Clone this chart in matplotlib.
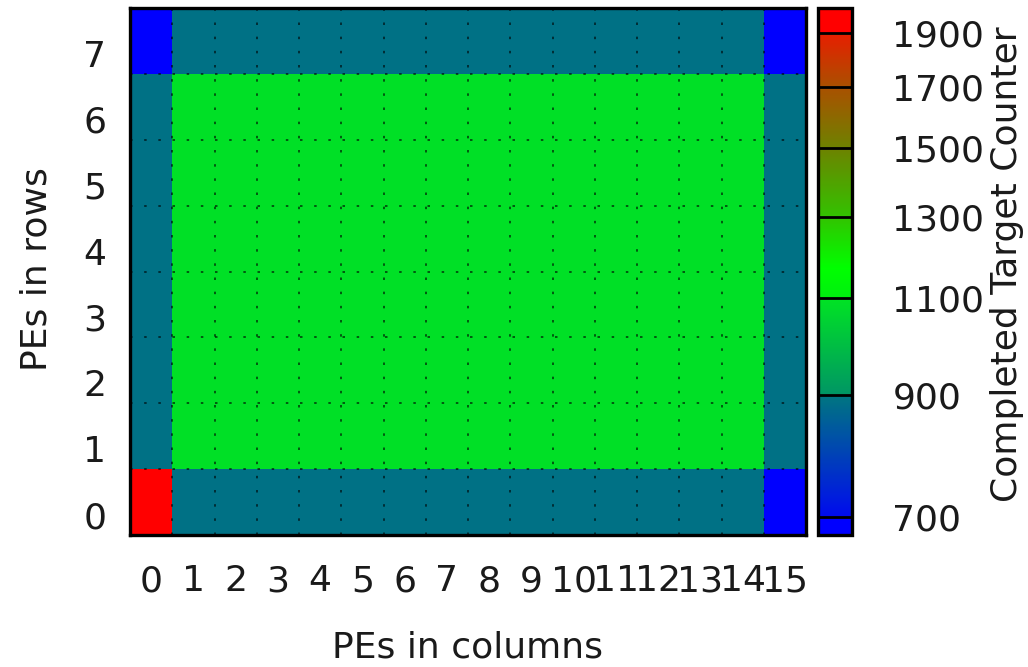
import numpy as np
import matplotlib
matplotlib.use("Agg")
import matplotlib.pyplot as plt
from matplotlib.colors import LogNorm, LinearSegmentedColormap
from matplotlib.ticker import NullLocator, FixedFormatter, FixedLocator
from matplotlib.transforms import ScaledTranslation

# completed target counter per PE, rows listed from row 0 (bottom) to row 7 (top)
row_0 = [2000, 890, 890, 890, 890, 890, 890, 890, 890, 890, 890, 890, 890, 890, 890, 675]
row_1 = [890, 1090, 1090, 1090, 1090, 1090, 1090, 1090, 1090, 1090, 1090, 1090, 1090, 1090, 1090, 890]
row_2 = [890, 1090, 1090, 1090, 1090, 1090, 1090, 1090, 1090, 1090, 1090, 1090, 1090, 1090, 1090, 890]
row_3 = [890, 1090, 1090, 1090, 1090, 1090, 1090, 1090, 1090, 1090, 1090, 1090, 1090, 1090, 1090, 890]
row_4 = [890, 1090, 1090, 1090, 1090, 1090, 1090, 1090, 1090, 1090, 1090, 1090, 1090, 1090, 1090, 890]
row_5 = [890, 1090, 1090, 1090, 1090, 1090, 1090, 1090, 1090, 1090, 1090, 1090, 1090, 1090, 1090, 890]
row_6 = [890, 1090, 1090, 1090, 1090, 1090, 1090, 1090, 1090, 1090, 1090, 1090, 1090, 1090, 1090, 890]
row_7 = [675, 890, 890, 890, 890, 890, 890, 890, 890, 890, 890, 890, 890, 890, 890, 675]

col_labels = [str(i) for i in range(16)]
row_labels = [str(i) for i in range(8)]
cb_ticks = [700, 900, 1100, 1300, 1500, 1700, 1900]
cb_min, cb_max = 675, 2000

# palette nodes (value, colour) sampled from the colour box
palette = [
    (675, (0, 0, 255)), (700, (0, 0, 255)), (702, (0, 12, 238)),
    (900, (0, 118, 128)), (902, (0, 150, 100)), (1100, (0, 228, 35)),
    (1102, (0, 240, 15)), (1170, (0, 255, 0)), (1300, (50, 195, 0)),
    (1500, (110, 130, 0)), (1700, (170, 80, 0)), (1900, (232, 30, 0)),
    (1902, (255, 0, 0)), (2000, (255, 0, 0)),
]


def make_cmap(nodes, vmin, vmax):
    lo, hi = np.log(vmin), np.log(vmax)
    pts = []
    for v, c in nodes:
        pos = (np.log(v) - lo) / (hi - lo)
        pts.append((min(max(pos, 0.0), 1.0), tuple(x / 255 for x in c)))
    return LinearSegmentedColormap.from_list("gp", pts, N=1024)


data = np.array([row_0, row_1, row_2, row_3, row_4, row_5, row_6, row_7], dtype=float)
n_rows, n_cols = data.shape

plt.rcParams['font.family'] = ['DejaVu Sans']
fs = 26
txt_color = '#1a1a1a'

fig = plt.figure(figsize=(10.28, 6.67), dpi=100)
ax = fig.add_axes([130 / 1028, 1 - 535 / 667, 676 / 1028, 527 / 667])
cax = fig.add_axes([818 / 1028, 1 - 535 / 667, 34 / 1028, 527 / 667])

cmap = make_cmap(palette, cb_min, cb_max)
norm = LogNorm(vmin=cb_min, vmax=cb_max)
xe = np.arange(n_cols + 1) - 0.5
ye = np.arange(n_rows + 1) - 0.5
pcm = ax.pcolormesh(xe, ye, data, cmap=cmap, norm=norm, shading='flat')

ax.set_xlim(-0.5, n_cols - 0.5)
ax.set_ylim(-0.5, n_rows - 0.5)
ax.set_xticks(np.arange(n_cols))
ax.set_xticklabels(col_labels)
ax.set_yticks(np.arange(n_rows))
ax.set_yticklabels(row_labels)
ax.set_xticks(np.arange(n_cols - 1) + 0.5, minor=True)
ax.set_yticks(np.arange(n_rows - 1) + 0.5, minor=True)
ax.grid(which='minor', color='black', linestyle=(0, (1.5, 7)), linewidth=1.2, alpha=0.7)
ax.grid(which='major', visible=False)
ax.tick_params(which='both', length=0, labelsize=fs, labelcolor=txt_color)
ax.tick_params(axis='x', pad=21)
ax.tick_params(axis='y', pad=17)
for lab in ax.get_yticklabels():
    lab.set_transform(lab.get_transform() + ScaledTranslation(0, -0.125, fig.dpi_scale_trans))
for s in ax.spines.values():
    s.set_linewidth(2.4)

ax.set_xlabel('PEs in columns', fontsize=fs, color=txt_color)
ax.xaxis.label.set_verticalalignment('baseline')
ax.xaxis.set_label_coords(0.5, -(657 - 535) / 527)
ax.set_ylabel('PEs in rows', fontsize=fs, color=txt_color)
ax.yaxis.label.set_verticalalignment('center')
ax.yaxis.set_label_coords(-(130 - 37) / 676, 0.505)

cbar = fig.colorbar(pcm, cax=cax)
cax.yaxis.set_major_locator(FixedLocator(cb_ticks))
cax.yaxis.set_major_formatter(FixedFormatter([str(t) for t in cb_ticks]))
cax.yaxis.set_minor_locator(NullLocator())
cax.tick_params(which='both', length=0, labelsize=fs, pad=29, labelcolor=txt_color)
for t in cb_ticks:
    cax.axhline(t, color='black', linewidth=2.0)
cbar.outline.set_linewidth(2.4)
fig.text(1007 / 1028, 1 - 264 / 667, 'Completed Target Counter', rotation=90,
         ha='center', va='center', fontsize=fs, color=txt_color)

fig.savefig('out.png', dpi=100)
